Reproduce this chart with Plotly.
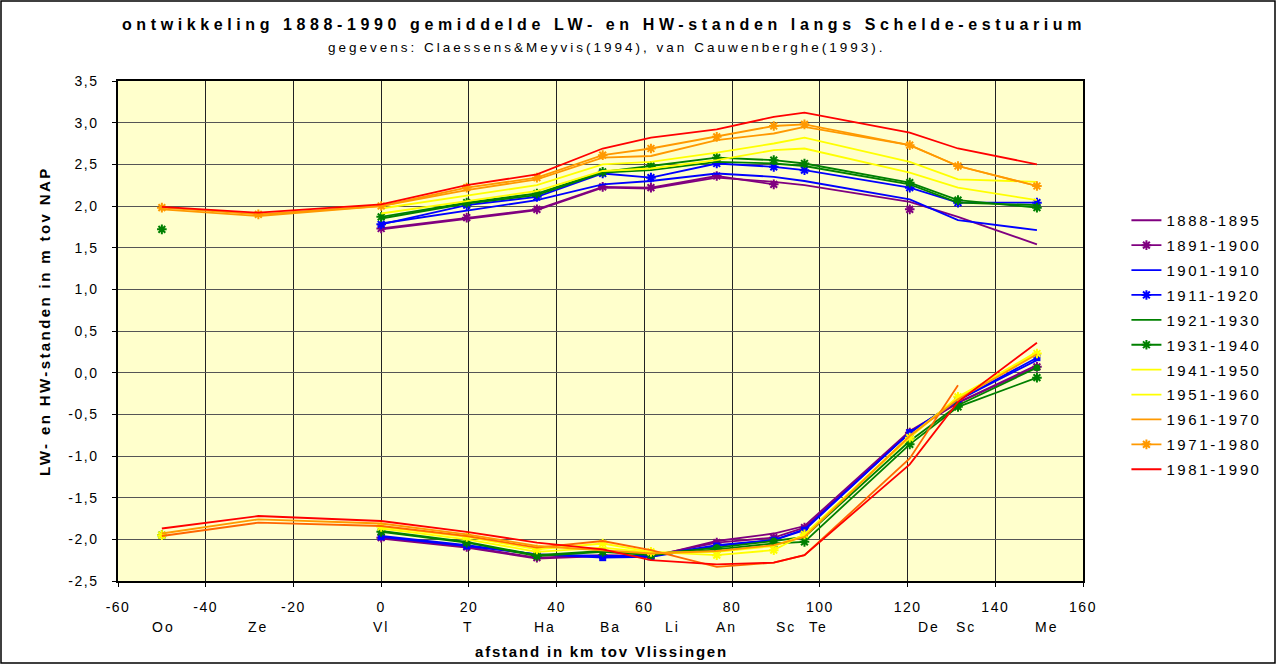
import plotly.graph_objects as go

# ---------------- data ----------------
stations = ["Oo", "Ze", "Vl", "T", "Ha", "Ba", "Li", "An", "Sc", "Te", "De", "Sc", "Me"]
km = [-50, -28, 0, 19.5, 35.5, 50.5, 61.5, 76.5, 89.5, 96.5, 120.5, 131.5, 149.5]
label_km = [-49.7, -28, 0, 19.8, 37.4, 52.2, 66.3, 78.8, 92.3, 99.8, 125, 133.3, 151.6]

periods = ["1888-1895", "1891-1900", "1901-1910", "1911-1920", "1921-1930", "1931-1940",
           "1941-1950", "1951-1960", "1961-1970", "1971-1980", "1981-1990"]

N = None
hw_1888 = [N, N, 1.72, 1.85, 1.95, 2.22, 2.21, 2.34, 2.29, 2.25, 2.05, 1.87, 1.54]
hw_1891 = [N, N, 1.73, 1.86, 1.96, 2.23, 2.22, 2.36, 2.26, N, 1.96, N, N]
hw_1901 = [N, N, 1.79, 1.94, 2.07, 2.26, 2.30, 2.39, 2.35, 2.30, 2.08, 1.83, 1.71]
hw_1911 = [N, N, 1.78, 2.01, 2.11, 2.39, 2.34, 2.51, 2.47, 2.43, 2.22, 2.04, 2.04]
hw_1921 = [N, N, 1.85, 2.03, 2.13, 2.40, 2.43, 2.53, 2.51, 2.48, 2.26, 2.04, 2.01]
hw_1931 = [1.72, N, 1.87, 2.04, 2.15, 2.41, 2.48, 2.58, 2.55, 2.51, 2.28, 2.07, 1.98]
hw_1941 = [N, N, 1.91, 2.06, 2.18, 2.42, 2.45, 2.55, 2.67, 2.69, 2.40, 2.22, 2.07]
hw_1951 = [N, N, 1.97, 2.12, 2.25, 2.50, 2.53, 2.64, 2.75, 2.82, 2.53, 2.32, 2.29]
hw_1961 = [1.96, 1.88, 2.00, 2.19, 2.32, 2.58, 2.60, 2.79, 2.87, 2.95, 2.73, 2.48, 2.24]
hw_1971 = [1.98, 1.90, 2.00, 2.22, 2.34, 2.61, 2.69, 2.83, 2.96, 2.98, 2.73, 2.48, 2.24]
hw_1981 = [1.99, 1.92, 2.02, 2.25, 2.38, 2.69, 2.82, 2.92, 3.07, 3.12, 2.88, 2.69, 2.50]

lw_1888 = [N, N, -1.99, -2.10, -2.23, -2.20, -2.21, -2.02, -1.93, -1.84, -0.70, -0.36, 0.09]
lw_1891 = [N, N, -1.98, -2.09, -2.22, -2.19, -2.20, -2.04, -1.98, -1.86, -0.72, -0.36, 0.07]
lw_1901 = [N, N, -1.96, -2.07, -2.18, -2.20, -2.20, -2.07, -2.01, -1.88, -0.72, -0.33, 0.15]
lw_1911 = [N, N, -1.97, -2.08, -2.18, -2.22, -2.21, -2.08, -2.01, -1.89, -0.72, -0.33, 0.18]
lw_1921 = [N, N, -1.90, -2.03, -2.19, -2.14, -2.18, -2.10, -2.02, -1.97, -0.82, -0.39, 0.06]
lw_1931 = [-1.95, N, -1.91, -2.04, -2.20, -2.15, -2.19, -2.12, -2.05, -2.03, -0.86, -0.41, -0.06]
lw_1941 = [-1.95, N, -1.85, -1.97, -2.12, -2.05, -2.15, -2.19, -2.13, -1.94, -0.78, -0.29, 0.23]
lw_1951 = [N, N, -1.87, -2.00, -2.15, -2.10, -2.16, -2.15, -2.08, -1.95, -0.76, -0.30, 0.25]
lw_1961 = [-1.96, -1.80, -1.84, -1.96, -2.10, -2.02, -2.13, -2.33, -2.28, -2.19, -1.03, -0.15, N]
lw_1971 = [-1.93, -1.76, -1.81, -1.94, -2.08, -2.13, -2.17, -2.14, -2.07, -1.97, -0.76, -0.32, 0.22]
lw_1981 = [-1.87, -1.72, -1.78, -1.91, -2.04, -2.12, -2.25, -2.30, -2.28, -2.19, -1.10, -0.35, 0.36]

hw_all = [hw_1888, hw_1891, hw_1901, hw_1911, hw_1921, hw_1931, hw_1941, hw_1951, hw_1961, hw_1971, hw_1981]
lw_all = [lw_1888, lw_1891, lw_1901, lw_1911, lw_1921, lw_1931, lw_1941, lw_1951, lw_1961, lw_1971, lw_1981]

hw_colors = ["#800080", "#800080", "#0000FF", "#0000FF", "#008000", "#008000",
             "#FFFF00", "#FFFF00", "#FF9900", "#FF9900", "#FF0000"]
hw_markers = [False, True, False, True, False, True, False, False, False, True, False]
lw_colors = ["#800080", "#800080", "#0000FF", "#0000FF", "#008000", "#008000",
             "#FFFF00", "#FFFF00", "#FF6600", "#FF9900", "#FF0000"]
lw_symbols = [None, "asterisk-open", None, "square", "circle", "asterisk-open",
              "asterisk-open", None, None, None, None]

y_ticks = [-2.5, -2.0, -1.5, -1.0, -0.5, 0.0, 0.5, 1.0, 1.5, 2.0, 2.5, 3.0, 3.5]
x_ticks = [-60, -40, -20, 0, 20, 40, 60, 80, 100, 120, 140, 160]

FONT = "Liberation Sans, Arial, sans-serif"


def sp(text, ls):
    return '<span style="letter-spacing:%spx">%s</span>' % (ls, text)


fig = go.Figure()

for i, p in enumerate(periods):
    mk = dict(symbol="asterisk-open", size=8, line=dict(width=2, color=hw_colors[i]),
              color=hw_colors[i])
    fig.add_trace(go.Scatter(
        x=km, y=hw_all[i], name=sp(p, 2.6), legendgroup=p,
        mode="lines+markers" if hw_markers[i] else "lines",
        line=dict(color=hw_colors[i], width=1.8),
        marker=mk, connectgaps=False))

for i, p in enumerate(periods):
    sym = lw_symbols[i]
    if sym is None:
        mode = "lines"
        mk = dict(size=1)
    elif sym == "asterisk-open":
        mode = "lines+markers"
        mk = dict(symbol=sym, size=8, line=dict(width=2, color=lw_colors[i]), color=lw_colors[i])
    else:
        mode = "lines+markers"
        mk = dict(symbol=sym, size=7, color=lw_colors[i])
    fig.add_trace(go.Scatter(
        x=km, y=lw_all[i], name=p, legendgroup=p, showlegend=False,
        mode=mode, line=dict(color=lw_colors[i], width=1.8),
        marker=mk, connectgaps=False))

# station labels under the axis
for name, xk in zip(stations, label_km):
    fig.add_annotation(x=xk, y=-0.092, xref="x", yref="paper", text=sp(name, 2),
                       showarrow=False, font=dict(family=FONT, size=14, color="black"),
                       xanchor="center", yanchor="middle")

# subtitle
fig.add_annotation(x=(606 - 118) / 965, y=(581 - 48) / 500, xref="paper", yref="paper",
                   text=sp("gegevens: Claessens&amp;Meyvis(1994), van Cauwenberghe(1993).", 3.0),
                   showarrow=False, font=dict(family=FONT, size=13.5, color="black"),
                   xanchor="center", yanchor="middle")

# axis titles
fig.add_annotation(x=(601 - 118) / 965, y=(581 - 651) / 500, xref="paper", yref="paper",
                   text="<b>" + sp("afstand in km tov Vlissingen", 1.8) + "</b>",
                   showarrow=False, font=dict(family=FONT, size=15, color="black"),
                   xanchor="center", yanchor="middle")
fig.add_annotation(x=(44 - 118) / 965, y=(581 - 321) / 500, xref="paper", yref="paper",
                   text="<b>" + sp("LW- en HW-standen in m tov NAP", 2.4) + "</b>",
                   textangle=-90, showarrow=False,
                   font=dict(family=FONT, size=15, color="black"),
                   xanchor="center", yanchor="middle")

# outer border
fig.add_shape(type="rect", xref="paper", yref="paper",
              x0=(1 - 118) / 965, x1=(1275 - 118) / 965,
              y0=(581 - 663) / 500, y1=(581 - 1) / 500,
              line=dict(color="black", width=1.5), fillcolor="rgba(0,0,0,0)", layer="below")

fig.update_layout(
    width=1276, height=664,
    margin=dict(l=118, r=193, t=81, b=83, autoexpand=False),
    paper_bgcolor="white",
    plot_bgcolor="#FFFFCC",
    separators=",.",
    title=dict(text="<b>" + sp("ontwikkeling 1888-1990 gemiddelde LW- en HW-standen langs Schelde-estuarium", 4.6) + "</b>",
               x=604 / 1276, xanchor="center", y=1 - 24 / 664, yanchor="middle",
               font=dict(family=FONT, size=16, color="black")),
    showlegend=True,
    legend=dict(x=1.045, xanchor="left", y=(581 - 204) / 500, yanchor="top",
                font=dict(family=FONT, size=15, color="black"),
                bgcolor="rgba(0,0,0,0)", borderwidth=0, tracegroupgap=2.4),
    xaxis=dict(range=[-60, 160], tickvals=x_ticks,
               ticktext=[sp(str(v), 1.5) for v in x_ticks],
               showgrid=True, gridcolor="#222222", gridwidth=1,
               zeroline=False, showline=True, linecolor="black", linewidth=1.5, mirror=True,
               ticks="outside", ticklen=4, tickcolor="black", ticklabelstandoff=8,
               automargin=False,
               tickfont=dict(family=FONT, size=14, color="black")),
    yaxis=dict(range=[-2.5, 3.5], tickvals=y_ticks,
               ticktext=[sp(("%.1f" % v).replace(".", ","), 1.5) for v in y_ticks],
               showgrid=True, gridcolor="#555555", gridwidth=1.3,
               zeroline=False, showline=True, linecolor="black", linewidth=1.5, mirror=True,
               ticks="outside", ticklen=4, tickcolor="black", ticklabelstandoff=11,
               automargin=False,
               tickfont=dict(family=FONT, size=14, color="black")),
)

fig.write_html("out.html", config={"displayModeBar": False},
               post_script="document.body.style.margin='0';document.body.style.overflow='hidden';")
